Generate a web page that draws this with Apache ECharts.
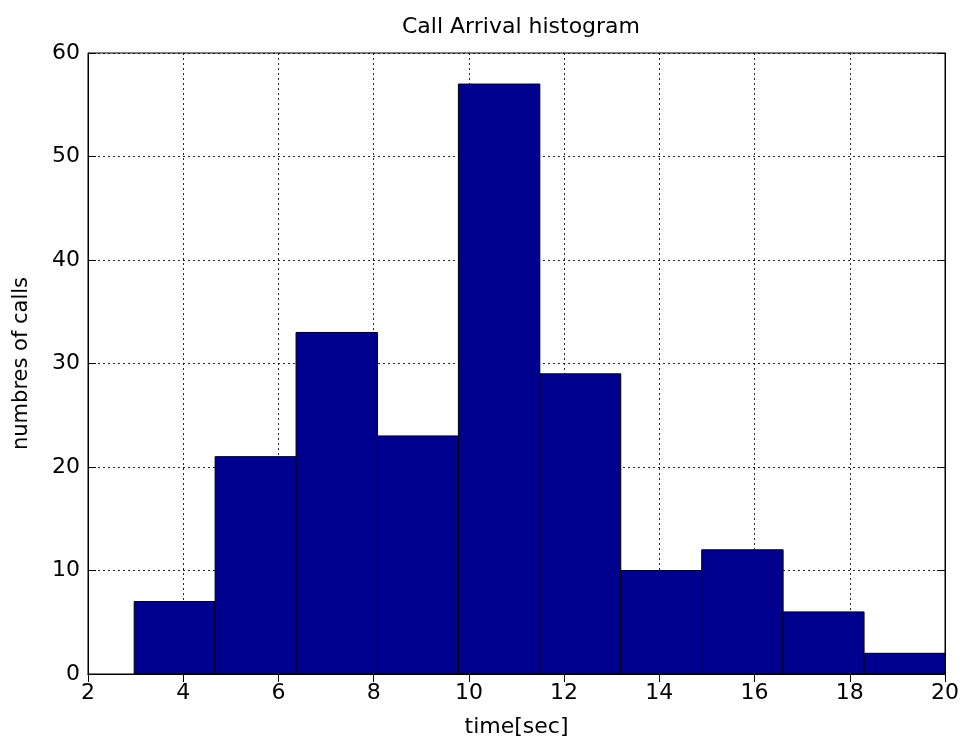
<!DOCTYPE html>
<html><head><meta charset="utf-8">
<script src="https://cdn.jsdelivr.net/npm/echarts@6/dist/echarts.min.js"></script>
<style>html,body{margin:0;padding:0;background:#fff}#c{width:968px;height:740px}</style>
</head><body><div id="c"></div>
<script>
const binEdges = [2.97, 4.67, 6.37, 8.08, 9.78, 11.49, 13.19, 14.89, 16.60, 18.30, 20.00];
const counts = [7, 21, 33, 23, 57, 29, 10, 12, 6, 2];
const xTicks = [2, 4, 6, 8, 10, 12, 14, 16, 18, 20];
const yTicks = [0, 10, 20, 30, 40, 50, 60];
const titleText = 'Call Arrival histogram';
const xName = 'time[sec]';
const yName = 'numbres of calls';

const data = counts.map((c, i) => [binEdges[i], binEdges[i + 1], c]);
const font = 'DejaVu Sans, sans-serif';
const chart = echarts.init(document.getElementById('c'));
const gridLine = {show: true, lineStyle: {color: '#000', type: [2, 3], width: 1, opacity: 0.85}};
chart.setOption({
  animation: false,
  backgroundColor: '#fff',
  title: {text: titleText, left: 516, top: 11, textAlign: 'center',
    textStyle: {fontFamily: font, fontSize: 22, fontWeight: 'normal', color: '#000'}},
  grid: {left: 88, right: 23, top: 53, bottom: 66, show: true, borderColor: '#000', borderWidth: 1,
    backgroundColor: '#fff', containLabel: false, outerBoundsMode: 'none'},
  xAxis: [{
    type: 'value', min: xTicks[0], max: xTicks[xTicks.length - 1], interval: 2,
    name: xName, nameLocation: 'middle', nameGap: 42,
    nameTextStyle: {fontFamily: font, fontSize: 22, color: '#000'},
    axisLine: {show: true, lineStyle: {color: '#000'}},
    axisTick: {show: true, inside: true, length: 8, lineStyle: {color: '#000'}},
    axisLabel: {fontFamily: font, fontSize: 22, color: '#000', margin: 8},
    splitLine: gridLine
  }, {
    type: 'value', position: 'top', min: xTicks[0], max: xTicks[xTicks.length - 1], interval: 2,
    axisLine: {show: true, lineStyle: {color: '#000'}},
    axisTick: {show: true, inside: true, length: 8, lineStyle: {color: '#000'}},
    axisLabel: {show: false}, splitLine: {show: false}
  }],
  yAxis: [{
    type: 'value', min: yTicks[0], max: yTicks[yTicks.length - 1], interval: 10,
    name: yName, nameLocation: 'middle', nameGap: 56, nameRotate: 90,
    nameTextStyle: {fontFamily: font, fontSize: 21, color: '#000'},
    axisLine: {show: true, lineStyle: {color: '#000'}},
    axisTick: {show: true, inside: true, length: 8, lineStyle: {color: '#000'}},
    axisLabel: {fontFamily: font, fontSize: 22, color: '#000', margin: 8},
    splitLine: gridLine
  }, {
    type: 'value', position: 'right', min: yTicks[0], max: yTicks[yTicks.length - 1], interval: 10,
    axisLine: {show: true, lineStyle: {color: '#000'}},
    axisTick: {show: true, inside: true, length: 8, lineStyle: {color: '#000'}},
    axisLabel: {show: false}, splitLine: {show: false}
  }],
  series: [{
    type: 'custom',
    xAxisIndex: 0, yAxisIndex: 0,
    data: data,
    encode: {x: [0, 1], y: 2},
    renderItem: function (params, api) {
      const p0 = api.coord([api.value(0), api.value(2)]);
      const p1 = api.coord([api.value(1), 0]);
      return {
        type: 'rect',
        shape: {x: p0[0], y: p0[1], width: p1[0] - p0[0], height: p1[1] - p0[1]},
        style: {fill: '#00008F', stroke: '#000', lineWidth: 1}
      };
    },
    z: 3
  }]
});
</script></body></html>
